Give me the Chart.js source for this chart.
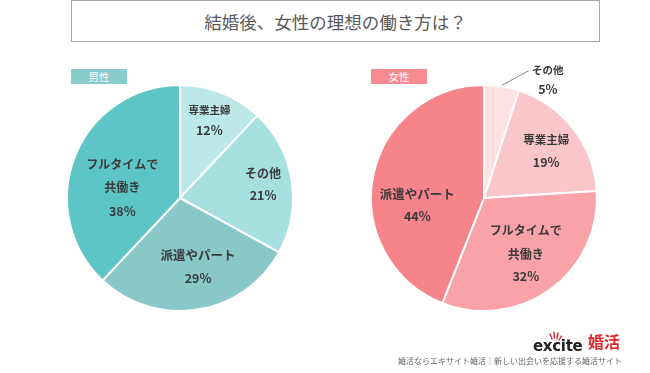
<!DOCTYPE html>
<html><head><meta charset="utf-8">
<script src="https://cdn.jsdelivr.net/npm/chart.js@4/dist/chart.umd.min.js"></script>
<style>
html,body{margin:0;padding:0;background:#fff;width:650px;height:373px;overflow:hidden;font-family:"Noto Sans CJK JP","Noto Sans",sans-serif;}
#title{position:absolute;left:71px;top:0px;width:529px;height:42px;border:1.5px solid #a6a6a6;box-sizing:border-box;text-align:center;line-height:41px;font-size:17.5px;color:#595959;}
.tag{position:absolute;top:69px;width:56px;height:15px;line-height:15px;text-align:center;color:#fff;font-size:10.5px;}
canvas{position:absolute;}
#logo{position:absolute;left:533px;top:330px;height:22px;}
#foot{position:absolute;left:398px;top:355px;font-size:8px;color:#666;white-space:nowrap;}
</style></head>
<body>
<div id="title">結婚後、女性の理想の働き方は？</div>
<div class="tag" style="left:71px;background:#88cccc;">男性</div>
<div class="tag" style="left:371px;background:#f88a92;">女性</div>
<canvas id="men" width="300" height="300" style="left:30px;top:48px;"></canvas>
<canvas id="women" width="300" height="300" style="left:334px;top:48px;"></canvas>
<div id="logo">
<svg width="95" height="24" style="position:absolute;left:0;top:0;">
<g stroke="#e0282d" stroke-width="1.4" stroke-linecap="round">
<line x1="17" y1="4" x2="19" y2="9"/><line x1="21" y1="2" x2="21.5" y2="8"/><line x1="25" y1="3" x2="24" y2="8.5"/><line x1="28.5" y1="6" x2="26" y2="10"/>
</g>
<text x="0" y="21" font-family="'DejaVu Sans',sans-serif" font-weight="bold" font-size="15" fill="#222" letter-spacing="-0.3">excite</text>
<text x="55" y="18" font-family="'Noto Sans CJK JP'" font-weight="bold" font-size="16" fill="#e0282d">婚活</text>
</svg>
</div>
<div id="foot">婚活ならエキサイト婚活｜新しい出会いを応援する婚活サイト</div>
<script>
// ---- data ----
const menCategories = ["専業主婦", "その他", "派遣やパート", "フルタイムで共働き"];
const menValues = [12, 21, 29, 38];
const womenCategories = ["その他", "専業主婦", "フルタイムで共働き", "派遣やパート"];
const womenValues = [5, 19, 32, 44];
const menColors = ["#bde8e8", "#a6e0e1", "#88c8c9", "#5ec5c6"];
const womenColors = ["#fde1e3", "#fbc6ca", "#f9a2a8", "#f7838b"];

// label layout (display lines and offsets relative to pie centre, in units of radius)
const menLabelLayout = [
  {lines:["専業主婦"], size:10.5, dx:0.26, dy:-0.78, pdy:0.18},
  {lines:["その他"], size:12, dx:0.735, dy:-0.22, pdy:0.195},
  {lines:["派遣やパート"], size:12.5, dx:0.16, dy:0.505, pdy:0.205},
  {lines:["フルタイムで","共働き"], size:12, dx:-0.51, dy:-0.30, pdy:0.21}
];
const womenLabelLayout = [
  {lines:["その他"], size:10.5, dx:0.565, dy:-1.135, pdy:0.17, outside:true},
  {lines:["専業主婦"], size:11.5, dx:0.55, dy:-0.515, pdy:0.195},
  {lines:["フルタイムで","共働き"], size:12, dx:0.37, dy:0.29, pdy:0.195},
  {lines:["派遣やパート"], size:12.5, dx:-0.59, dy:-0.03, pdy:0.195}
];

const labelPlugin = {
  id: 'sliceLabels',
  afterDraw(chart, args, opts) {
    const ctx = chart.ctx;
    const meta = chart.getDatasetMeta(0);
    const vals = chart.data.datasets[0].data;
    const layout = opts.layout;
    ctx.save();
    ctx.fillStyle = '#3a3a3a';
    ctx.textAlign = 'center';
    ctx.textBaseline = 'middle';
    meta.data.forEach((arc, i) => {
      const L = layout[i];
      const r = arc.outerRadius;
      const cx = arc.x, cy = arc.y;
      let x = cx + L.dx * r, y = cy + L.dy * r;
      const lh = 0.21 * r;
      ctx.font = 'bold ' + L.size + 'px "Noto Sans CJK JP", sans-serif';
      L.lines.forEach((t, k) => ctx.fillText(t, x, y + k * lh));
      ctx.font = 'bold 12.5px "Noto Sans CJK JP", sans-serif';
      ctx.fillText(vals[i] + '%', x, y + (L.lines.length - 1) * lh + L.pdy * r);
      if (L.outside) {
        const mid = (arc.startAngle + arc.endAngle) / 2;
        const px = cx + Math.cos(mid) * r, py = cy + Math.sin(mid) * r;
        ctx.strokeStyle = '#8c8c8c';
        ctx.lineWidth = 1;
        ctx.beginPath();
        ctx.moveTo(px, py - 1);
        ctx.lineTo(x - 0.17 * r, y + 1);
        ctx.stroke();
      }
    });
    ctx.restore();
  }
};

function makePie(id, labels, values, colors, layout) {
  return new Chart(document.getElementById(id), {
    type: 'pie',
    data: { labels: labels, datasets: [{ data: values, backgroundColor: colors, borderColor: '#ffffff', borderWidth: 2 }] },
    options: {
      responsive: false, animation: false, radius: 113,
      layout: { padding: 0 },
      plugins: { legend: { display: false }, tooltip: { enabled: false }, sliceLabels: { layout: layout } }
    },
    plugins: [labelPlugin]
  });
}
makePie('men', menCategories, menValues, menColors, menLabelLayout);
makePie('women', womenCategories, womenValues, womenColors, womenLabelLayout);
</script>
</body></html>
